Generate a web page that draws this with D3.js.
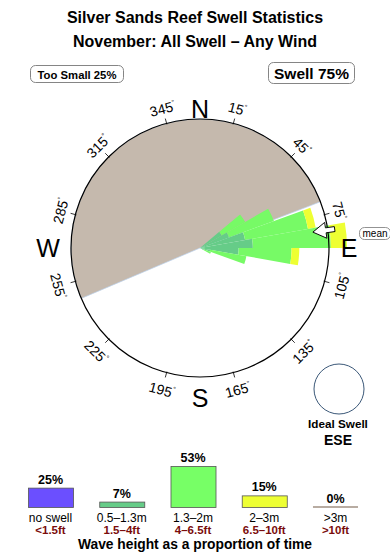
<!DOCTYPE html>
<html><head><meta charset="utf-8">
<script src="https://cdn.jsdelivr.net/npm/d3@7"></script>
<style>
body{margin:0;background:#fff}
svg{display:block}
text{font-family:"Liberation Sans",Arial,Helvetica,sans-serif}
</style>
</head><body><svg id="c" width="390" height="560"></svg>
<script>
// ---------------- data ----------------
const titleLines = ["Silver Sands Reef Swell Statistics", "November: All Swell \u2013 Any Wind"];
const tooSmallLabel = "Too Small 25%";
const swellLabel = "Swell 75%";
const compassLabels = ["N", "E", "S", "W"];
const compassBearings = [0, 90, 180, 270];
const degreeTicks = [15, 45, 75, 105, 135, 165, 195, 225, 255, 285, 315, 345];
const shadowSector = [247, 429];            // bearing range of the beige (too small) sector
const dirBins = [55, 65, 75, 85, 95, 105, 115];   // direction bin centres (deg)
const dirWidth = 10;
const smallSwell = [3.9, 4.8, 7.1, 8.2, 6.0, 1.6, 0.6];   // 0.5-1.3m, % of time
const midSwell   = [4.2, 7.4, 9.9, 12.1, 8.2, 5.7, 1.2];  // 1.3-2m
const bigSwell   = [0, 0, 1.2, 2.5, 1.2, 0, 0];           // 2-3m
const meanDir = 82;
const idealLabel = "Ideal Swell";
const idealDir = "ESE";
const heightCats = ["no swell", "0.5\u20131.3m", "1.3\u20132m", "2\u20133m", ">3m"];
const heightFeet = ["<1.5ft", "1.5\u20134ft", "4\u20136.5ft", "6.5\u201310ft", ">10ft"];
const heightPct = [25, 7, 53, 15, 0];
const bottomTitle = "Wave height as a proportion of time";

// ---------------- drawing ----------------
const svg = d3.select("#c");
const cx = 200, cy = 248, R = 129;
const rad = d => d * Math.PI / 180;

// titles
svg.selectAll("text.title").data(titleLines).join("text")
  .attr("x", 195).attr("y", (d, i) => 23 + i * 24)
  .attr("text-anchor", "middle").attr("font-weight", "bold").attr("font-size", 16)
  .text(d => d);

// boxes
function box(x, y, w, h, label, fs, ty) {
  svg.append("rect").attr("x", x).attr("y", y).attr("width", w).attr("height", h)
    .attr("rx", 5).attr("fill", "#fff").attr("stroke", "#777").attr("stroke-width", 0.9);
  svg.append("text").attr("x", x + w / 2).attr("y", ty).attr("text-anchor", "middle")
    .attr("font-weight", "bold").attr("font-size", fs).text(label);
}
box(30.5, 65.5, 93, 17, tooSmallLabel, 11.3, 78.5);
box(268.5, 62.5, 86, 21, swellLabel, 15.5, 79);

const g = svg.append("g").attr("transform", `translate(${cx},${cy})`);

// white disk
g.append("circle").attr("r", R).attr("fill", "#fff");

// beige shadow sector
g.append("path")
  .attr("d", d3.arc()({innerRadius: 0, outerRadius: R, startAngle: rad(shadowSector[0]), endAngle: rad(shadowSector[1])}))
  .attr("fill", "#c5b9ad").attr("stroke", "#bcd3ee").attr("stroke-width", 0.7);

// rose wedges (stacked)
const rScale = d3.scaleLinear().domain([0, 20]).range([0, R]);
const arc = d3.arc();
const bands = [
  {vals: smallSwell, color: "#66cc88"},
  {vals: midSwell, color: "#77fa66"},
  {vals: bigSwell, color: "#eeff33"}
];
dirBins.forEach((dir, i) => {
  let cum = 0;
  bands.forEach(b => {
    const v = b.vals[i];
    if (v > 0) {
      g.append("path")
        .attr("d", arc({innerRadius: rScale(cum), outerRadius: rScale(cum + v),
          startAngle: rad(dir - dirWidth / 2), endAngle: rad(dir + dirWidth / 2)}))
        .attr("fill", b.color);
    }
    cum += v;
  });
});

// outer circle
g.append("circle").attr("r", R).attr("fill", "none").attr("stroke", "#000").attr("stroke-width", 1.2);

// ticks and degree labels
degreeTicks.forEach(b => {
  const s = Math.sin(rad(b)), c = Math.cos(rad(b));
  g.append("line").attr("x1", (R - 1) * s).attr("y1", -(R - 1) * c)
    .attr("x2", (R + 5) * s).attr("y2", -(R + 5) * c)
    .attr("stroke", "#000").attr("stroke-width", 0.8);
  const LR = (b > 90 && b < 270) ? 147 : 144;
  const rot = (b < 90) ? b : (b > 270 ? b - 360 : b - 180);
  const t = g.append("text")
    .attr("transform", `translate(${LR * s},${-LR * c}) rotate(${rot})`)
    .attr("text-anchor", "middle").attr("dy", "0.35em").attr("font-size", 14);
  t.append("tspan").text(b);
  t.append("tspan").attr("font-size", 7).attr("dy", "-0.9em").text("\u00b0");
});

// compass letters
const letterPos = [[0, -139], [149, 0], [0, 150], [-152, 0]];
compassLabels.forEach((L, i) => {
  g.append("text").attr("x", letterPos[i][0]).attr("y", letterPos[i][1])
    .attr("text-anchor", "middle").attr("dy", "0.36em").attr("font-size", 25).text(L);
});

// mean arrow
const arrow = g.append("g").attr("transform", `rotate(${meanDir})`);
arrow.append("path")
  .attr("d", "M0,-114 L-8,-127 L-2.5,-127 L-2.5,-136 L2.5,-136 L2.5,-127 L8,-127 Z")
  .attr("fill", "#fff").attr("stroke", "#000").attr("stroke-width", 0.9);

// mean label
svg.append("rect").attr("x", 359.5).attr("y", 227.5).attr("width", 31).attr("height", 12)
  .attr("rx", 5).attr("fill", "#fff").attr("stroke", "#777").attr("stroke-width", 0.8);
svg.append("text").attr("x", 375).attr("y", 237).attr("text-anchor", "middle")
  .attr("font-size", 10).text("mean");

// ideal swell
svg.append("circle").attr("cx", 339).attr("cy", 389).attr("r", 25)
  .attr("fill", "#fff").attr("stroke", "#3b5878").attr("stroke-width", 1);
svg.append("text").attr("x", 338).attr("y", 428).attr("text-anchor", "middle")
  .attr("font-weight", "bold").attr("font-size", 11.7).text(idealLabel);
svg.append("text").attr("x", 338).attr("y", 445).attr("text-anchor", "middle")
  .attr("font-weight", "bold").attr("font-size", 14).text(idealDir);

// bottom bar chart
const barColors = ["#6b4fff", "#66cc88", "#77ff66", "#eeff33", "#b8aca2"];
const x = d3.scaleBand().domain(heightCats).range([28, 358]).paddingInner(0.368).paddingOuter(0);
const y = d3.scaleLinear().domain([0, 100]).range([507, 507 - 77.5]);
const bars = svg.append("g");
heightCats.forEach((c, i) => {
  const h = y(0) - y(heightPct[i]);
  if (heightPct[i] > 0) {
    bars.append("rect").attr("x", x(c) + 0.5).attr("y", y(heightPct[i]) + 0.5)
      .attr("width", x.bandwidth()).attr("height", h)
      .attr("fill", barColors[i]).attr("stroke", "#555").attr("stroke-width", 0.8);
  } else {
    bars.append("rect").attr("x", x(c)).attr("y", y(0) - 1)
      .attr("width", x.bandwidth()).attr("height", 2).attr("fill", barColors[i]);
  }
  const xc = x(c) + x.bandwidth() / 2;
  bars.append("text").attr("x", xc).attr("y", y(heightPct[i]) - 4)
    .attr("text-anchor", "middle").attr("font-weight", "bold").attr("font-size", 12.5)
    .text(heightPct[i] + "%");
  bars.append("text").attr("x", xc).attr("y", 521.5)
    .attr("text-anchor", "middle").attr("font-size", 12).text(c);
  bars.append("text").attr("x", xc).attr("y", 533.5)
    .attr("text-anchor", "middle").attr("font-weight", "bold").attr("font-size", 11.5)
    .attr("fill", "#7a0c0c").text(heightFeet[i]);
});
svg.append("text").attr("x", 195).attr("y", 548.5).attr("text-anchor", "middle")
  .attr("font-weight", "bold").attr("font-size", 13.8).text(bottomTitle);
</script>
</body></html>
